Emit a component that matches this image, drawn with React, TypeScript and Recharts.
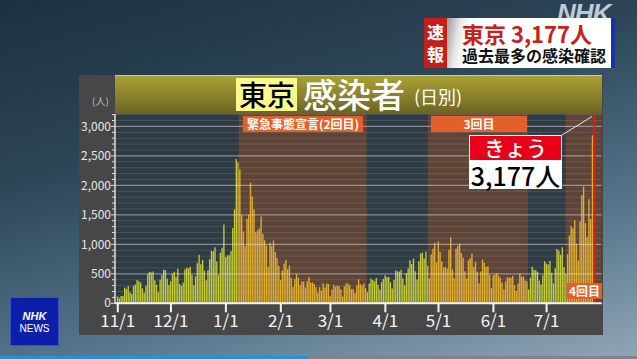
import React from 'react';
import { ComposedChart, Bar, XAxis, YAxis, ReferenceArea, ReferenceLine, Cell } from 'recharts';

// Tokyo daily new infections, 2020-11-01 .. 2021-07-28
const nov = [116,87,122,122,269,242,294,189,157,293,317,393,374,352,255,180,298,493,534,522,539,391,314,186,401,481,570,561,418,311];
const dec = [372,500,533,449,584,327,299,352,572,602,595,621,480,305,460,678,822,664,736,556,392,563,748,888,884,949,708,481,856,944,1337];
const jan = [783,814,816,884,1278,1591,2447,2392,2268,1494,1219,970,1433,1502,2044,1809,1592,1204,1240,1274,1471,1175,1070,986,618,1026,973,1064,868,769,633];
const feb = [393,556,676,734,577,639,429,276,412,491,434,307,369,371,266,378,445,353,353,327,272,178,275,213,340,270,337,329];
const mar = [121,232,316,279,301,293,237,116,290,340,335,304,239,241,175,300,409,323,303,342,256,187,337,420,394,376,430,313,234,364,414];
const apr = [475,440,446,355,249,399,555,545,537,570,421,306,510,591,729,667,759,543,405,711,843,861,759,876,635,425,828,925,1027,698];
const may = [1050,870,708,609,621,591,907,1121,573,419,925,969,1010,854,772,542,419,732,766,843,618,705,535,340,539,743,684,614,629,479,260];
const jun = [471,487,508,472,436,351,235,369,440,439,435,467,304,209,337,501,452,453,388,376,236,435,619,570,562,534,386,317,476,714];
const jul = [673,660,716,518,342,593,920,896,822,950,614,502,830,1149,1308,1271,1410,1008,727,1387,1832,1979,1359,1128,1763,1429,2848,3177];

const monthTicks = [0, 30, 61, 92, 120, 151, 181, 212, 242];
const monthLabels = ['11/1', '12/1', '1/1', '2/1', '3/1', '4/1', '5/1', '6/1', '7/1'];

// emergency declaration periods (day index from 11/1)
const emergencyStart = [68.3, 175, 252.7];
const emergencyEnd = [140.5, 231.4, 273.1];

const yTicks = Array.from({ length: 33 }, (_, i) => i * 100);
const gridValues = yTicks.filter((v) => v > 0);

const daily = [...nov, ...dec, ...jan, ...feb, ...mar, ...apr, ...may, ...jun, ...jul];
const data = daily.map((v, i) => ({ day: i, v }));
const todayIdx = daily.length - 1;

const inEmergency = (d: number) => emergencyStart.some((s, k) => d >= s - 0.5 && d <= emergencyEnd[k]);

const FONT = "'Noto Sans CJK JP', 'Noto Sans', sans-serif";

const YTick = (props: any) => {
  const { x, y, payload } = props;
  const v = payload.value as number;
  const major = v % 500 === 0;
  return (
    <g>
      <line x1={x - (major ? 4 : 3)} x2={x} y1={y} y2={y} stroke="#dcdcdc" strokeWidth={1} />
      {major && (
        <text x={x - 4} y={y} dy={v === 0 ? 3.5 : 4.5} textAnchor="end" fill="#e6e6e6" fontSize={12} fontFamily={FONT}>
          {v.toLocaleString('en-US')}
        </text>
      )}
    </g>
  );
};

export default function App() {
  return (
    <div
      style={{
        position: 'fixed',
        left: 0,
        top: 0,
        width: 637,
        height: 359,
        overflow: 'hidden',
        fontFamily: FONT,
        background: 'linear-gradient(165deg, #1d3141 0%, #2c4658 35%, #56748b 70%, #8fa6b6 100%)',
      }}
    >
      {/* NHK watermark */}
      <div style={{ position: 'absolute', left: 557, top: 2, height: 22, fontSize: 26, fontWeight: 900, fontStyle: 'italic', color: 'rgba(235,240,245,0.78)', letterSpacing: -1, lineHeight: '22px', fontFamily: "'Liberation Sans', Arial, sans-serif" }}>NHK</div>

      {/* breaking news box */}
      <div style={{ position: 'absolute', left: 424, top: 18, width: 24, height: 50, background: '#c41f1a' }} />
      <div style={{ position: 'absolute', left: 427, top: 21, fontSize: 17, fontWeight: 700, color: '#fff', lineHeight: '22px' }}>速<br />報</div>
      <div style={{ position: 'absolute', left: 447, top: 18, width: 165, height: 50, background: 'linear-gradient(100deg, #9a9a9a 0%, #e8e8e8 8%, #ffffff 14%)' }} />
      <div style={{ position: 'absolute', left: 611, top: 18, width: 4, height: 50, background: '#1833a8' }} />
      <div style={{ position: 'absolute', left: 462, top: 21, fontSize: 22, fontWeight: 700, color: '#c8201c', lineHeight: '24px', whiteSpace: 'nowrap' }}>東京 3,177人</div>
      <div style={{ position: 'absolute', left: 462, top: 45, fontSize: 16, fontWeight: 700, color: '#111', lineHeight: '20px', whiteSpace: 'nowrap' }}>過去最多の感染確認</div>

      {/* chart panel */}
      <div style={{ position: 'absolute', left: 79, top: 75, width: 524, height: 260, background: '#474747' }} />
      <div style={{ position: 'absolute', left: 115, top: 75, width: 487, height: 38, background: 'linear-gradient(#aaa036, #857d2a 60%, #6a6322)', borderTop: '1px solid #cfc9a0', borderBottom: '1px solid #d8d8d0' }} />
      <div style={{ position: 'absolute', left: 236, top: 78, width: 61, height: 33, background: '#f9f98e' }} />
      <div style={{ position: 'absolute', left: 239, top: 75, fontSize: 28, fontWeight: 500, color: '#000', lineHeight: '38px' }}>東京</div>
      <div style={{ position: 'absolute', left: 303, top: 73, fontSize: 34, fontWeight: 500, color: '#fff', lineHeight: '42px', whiteSpace: 'nowrap' }}>感染者</div>
      <div style={{ position: 'absolute', left: 414, top: 84, fontSize: 18, color: '#fff', lineHeight: '24px', whiteSpace: 'nowrap' }}>(日別)</div>
      <div style={{ position: 'absolute', left: 92, top: 94, fontSize: 10, color: '#bdbdbd', lineHeight: '14px' }}>(人)</div>

      <div style={{ position: 'absolute', left: 0, top: 0 }}>
        <ComposedChart width={637} height={359} data={data} margin={{ top: 114, right: 35.3, bottom: 25.7, left: 0 }}>
          <XAxis
            dataKey="day"
            type="number"
            domain={[-1.58, 273.1]}
            allowDataOverflow
            ticks={monthTicks}
            tickFormatter={(d: number) => monthLabels[monthTicks.indexOf(d)]}
            height={30}
            axisLine={{ stroke: '#f4f4f4', strokeWidth: 2 }}
            tickLine={{ stroke: '#f4f4f4', strokeWidth: 2 }}
            tickSize={9}
            tickMargin={3}
            tick={{ fill: '#f4f4f4', fontSize: 17, fontFamily: FONT }}
            interval={0}
          />
          <YAxis
            type="number"
            domain={[0, 3210]}
            allowDataOverflow
            ticks={yTicks}
            interval={0}
            width={115}
            tickSize={0}
            tickMargin={0}
            tickLine={false}
            axisLine={{ stroke: '#dcdcdc', strokeWidth: 1.5 }}
            tick={<YTick />}
          />
          <ReferenceArea x1={-1.58} x2={273.1} y1={0} y2={3210} fill="#2f3b45" fillOpacity={1} stroke="none" ifOverflow="hidden" />
          {emergencyStart.map((s, k) => (
            <ReferenceArea key={'e' + k} x1={s} x2={emergencyEnd[k]} y1={0} y2={3210} fill="#5e4538" fillOpacity={1} stroke="none" ifOverflow="hidden" />
          ))}
          {gridValues.map((v) => (
            <ReferenceLine
              key={'g' + v}
              y={v}
              stroke={v % 500 === 0 ? 'rgba(225,225,225,0.5)' : 'rgba(200,200,200,0.16)'}
              strokeWidth={v % 500 === 0 ? 1.2 : 1}
            />
          ))}
          <Bar dataKey="v" barSize={1.35} isAnimationActive={false}>
            {data.map((d) => (
              <Cell
                key={d.day}
                fill={d.day === todayIdx ? '#e0201c' : inEmergency(d.day) ? '#e0ae2e' : '#c6cc36'}
              />
            ))}
          </Bar>
          <ReferenceLine
            segment={[{ x: todayIdx, y: 0 }, { x: todayIdx, y: daily[todayIdx] }]}
            stroke="#d81e1a"
            strokeWidth={2}
          />
        </ComposedChart>
      </div>

      {/* period labels */}
      <div style={{ position: 'absolute', left: 243, top: 116, width: 120, height: 16, background: '#e4602a', color: '#fff', fontSize: 12, fontWeight: 700, lineHeight: '16px', textAlign: 'center', whiteSpace: 'nowrap' }}>緊急事態宣言(2回目)</div>
      <div style={{ position: 'absolute', left: 431, top: 116, width: 96, height: 16, background: '#e4602a', color: '#fff', fontSize: 12, fontWeight: 700, lineHeight: '16px', textAlign: 'center' }}>3回目</div>
      <div style={{ position: 'absolute', left: 567, top: 283, width: 35, height: 16, background: '#e4602a', color: '#fff', fontSize: 12, fontWeight: 700, lineHeight: '16px', textAlign: 'center', whiteSpace: 'nowrap' }}>4回目</div>

      {/* today callout */}
      <svg style={{ position: 'absolute', left: 0, top: 0 }} width={637} height={359}>
        <line x1={562} y1={135} x2={592} y2={116.5} stroke="#e8e8e8" strokeWidth={1} />
      </svg>
      <div style={{ position: 'absolute', left: 469, top: 135, width: 93, height: 26, boxSizing: 'border-box', background: '#e8001a', border: '1px solid #fff', color: '#fff', fontSize: 21, fontWeight: 500, lineHeight: '22px', textAlign: 'center' }}>きょう</div>
      <div style={{ position: 'absolute', left: 469, top: 161, width: 93, height: 28, background: '#fff', color: '#000', fontSize: 25, fontWeight: 500, lineHeight: '28px', textAlign: 'center', whiteSpace: 'nowrap' }}>3,177人</div>

      {/* NHK NEWS logo */}
      <div style={{ position: 'absolute', left: 10, top: 297, width: 49, height: 49, background: '#0c1fa8', border: '1px solid #3a4fc0', boxSizing: 'border-box', color: '#fff', textAlign: 'center' }}>
        <div style={{ fontSize: 11, fontWeight: 900, fontStyle: 'italic', marginTop: 12, lineHeight: '12px', fontFamily: "'Liberation Sans', Arial, sans-serif" }}>NHK</div>
        <div style={{ fontSize: 10, lineHeight: '13px', fontFamily: "'Liberation Sans', Arial, sans-serif" }}>NEWS</div>
      </div>

      {/* bottom strip */}
      <div style={{ position: 'absolute', left: 0, top: 356, width: 308, height: 3, background: '#0a9ee0' }} />
      <div style={{ position: 'absolute', left: 308, top: 356, width: 329, height: 3, background: '#7d868e' }} />
    </div>
  );
}
